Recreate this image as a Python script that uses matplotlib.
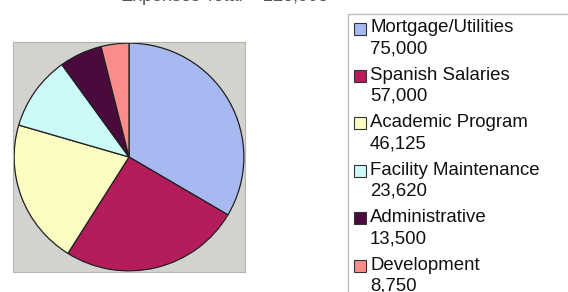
import matplotlib.pyplot as plt
from matplotlib.patches import Rectangle

categories = ['Mortgage/Utilities', 'Spanish Salaries', 'Academic Program',
              'Facility Maintenance', 'Administrative', 'Development']
values = [75000, 57000, 46125, 23620, 13500, 8750]
colors = ['#a8b9f2', '#b41c5c', '#fbfbc2', '#cbfaf8', '#4a0a3c', '#fa8c8c']
title = 'Expenses Total = 223,995'

plt.rcParams['font.family'] = ['Liberation Sans', 'DejaVu Sans']

W, H = 568, 292
fig = plt.figure(figsize=(W / 100, H / 100), dpi=100)
fig.patch.set_facecolor('white')

# pie on grey square
ax = fig.add_axes([13 / W, (H - 272) / H, 232 / W, 230 / H])
ax.pie(values, colors=colors, startangle=90, counterclock=False,
       wedgeprops=dict(edgecolor='#202020', linewidth=0.9))
ax.set_frame_on(True)
ax.set_facecolor('#d2d2ce')
ax.set_xlim(-1.01, 1.01)
ax.set_ylim(-1.01, 1.01)
ax.set_aspect('auto')
ax.set_xticks([])
ax.set_yticks([])
for s in ax.spines.values():
    s.set_visible(True)
    s.set_color('#b4b4b0')
    s.set_linewidth(0.8)

# title, mostly cut off at the top of the image
fig.text(225 / W, (H - 1) / H, title, ha='center', va='baseline',
         fontsize=13, color='#555555')

# legend drawn by hand (box runs off the right and bottom edges)
lax = fig.add_axes([0, 0, 1, 1])
lax.set_xlim(0, W)
lax.set_ylim(H, 0)
lax.axis('off')
lax.add_patch(Rectangle((348, 14), 240, 300, facecolor='white',
                        edgecolor='#bbbbbb', linewidth=1.0))
pitch = 47.4
for i, (name, val, c) in enumerate(zip(categories, values, colors)):
    y = 28 + i * pitch
    lax.add_patch(Rectangle((354, y - 5.5), 12, 12, facecolor=c,
                            edgecolor='#333333', linewidth=0.8))
    lax.text(370, y, name, va='center', ha='left', fontsize=13.4, color='#111111')
    lax.text(370, y + 21, f'{val:,}', va='center', ha='left', fontsize=13.4,
             color='#111111')

fig.savefig('out.png', dpi=100)
